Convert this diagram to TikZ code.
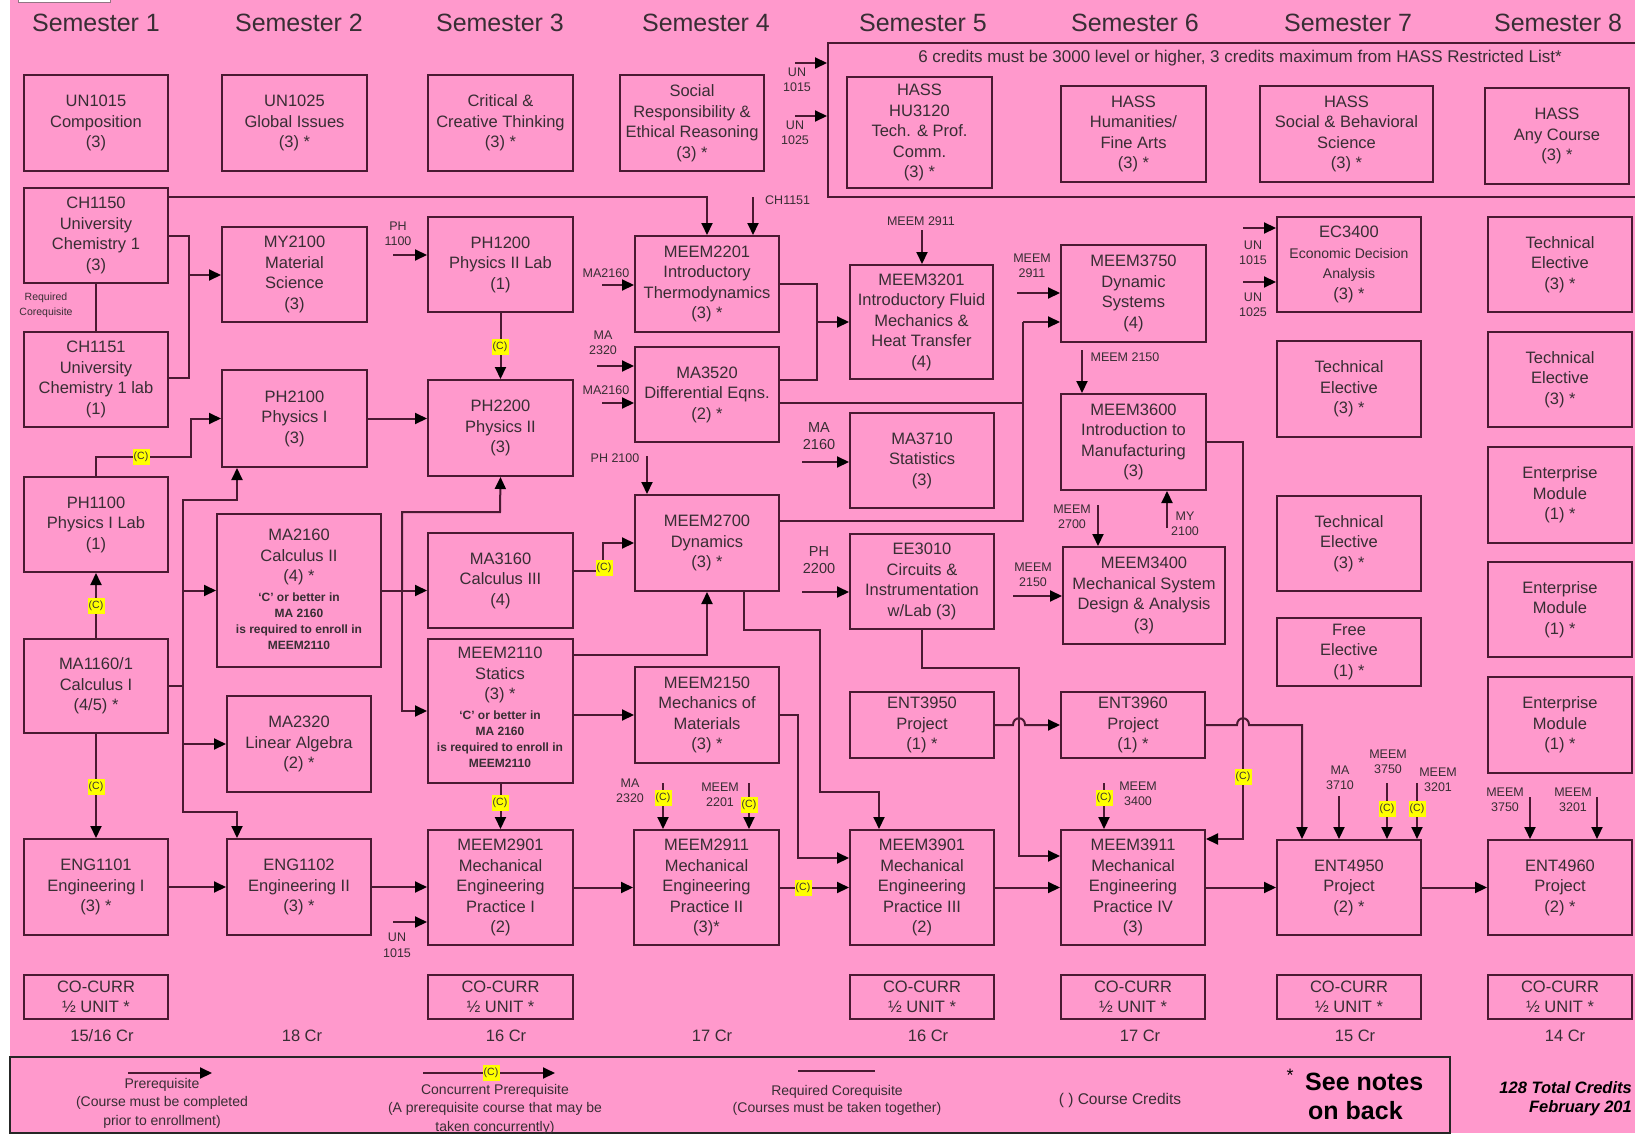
\documentclass[tikz,border=0pt]{standalone}
\usepackage{fontspec}
\setmainfont{Liberation Sans}
\usetikzlibrary{arrows.meta}
\definecolor{bgpink}{RGB}{255,153,204}
\definecolor{lnc}{RGB}{74,26,50}
\definecolor{txc}{RGB}{56,46,52}
\definecolor{hly}{RGB}{255,255,0}
\newcommand\crs[6]{\node[box, minimum width={(#4-#2)*1pt}, minimum height={(#5-#3)*1pt}] (#1) at ({(#2+#4)/2},{(#3+#5)/2}) {#6};}
\newcommand\ccl[3]{\node[cbadge] (#1) at (#2,#3) {(C)};}
\tikzset{
 box/.style={draw=lnc, line width=2pt, text=txc, align=center, inner sep=1pt, font=\fontsize{16.5}{20.5}\selectfont},
 intext/.style={text=txc, align=center, inner sep=0pt, font=\fontsize{16.5}{20.5}\selectfont},
 conn/.style={draw=lnc, line width=2pt},
 arr/.style={conn, -{Triangle[length=12pt,width=11pt,color=black]}},
 lab/.style={text=txc, align=center, inner sep=0pt, font=\fontsize{12.5}{15.5}\selectfont},
 biglab/.style={text=txc, align=center, inner sep=0pt, font=\fontsize{14.5}{16.5}\selectfont},
 cbadge/.style={fill=hly, text=txc, inner sep=0pt, minimum width=17pt, minimum height=16pt, font=\fontsize{10.5}{12}\selectfont},
 sem/.style={text=txc, inner sep=0pt, font=\fontsize{25}{30}\selectfont},
 cred/.style={text=txc, inner sep=0pt, font=\fontsize{16.5}{20}\selectfont},
 note/.style={text=txc, align=center, inner sep=0pt, font=\fontsize{12}{16}\selectfont\bfseries},
 leg/.style={text=txc, align=center, inner sep=0pt, font=\fontsize{14}{18.5}\selectfont},
}
\begin{document}
\begin{tikzpicture}[x=1pt,y=-1pt]
\useasboundingbox (0,0) rectangle (1635,1137);
\clip (0,0) rectangle (1635,1137);
\fill[white] (0,0) rectangle (1635,1137);
\fill[bgpink] (10,0) rectangle (1635,1133);
\draw[fill=white, draw=lnc!60, line width=1pt] (18,-3) rectangle (110,3);

% semester headings
\node[sem] (s1) at (96,23) {Semester 1};
\node[sem] (s2) at (299,23) {Semester 2};
\node[sem] (s3) at (500,23) {Semester 3};
\node[sem] (s4) at (706,23) {Semester 4};
\node[sem] (s5) at (923,23) {Semester 5};
\node[sem] (s6) at (1135,23) {Semester 6};
\node[sem] (s7) at (1348,23) {Semester 7};
\node[sem] (s8) at (1558,23) {Semester 8};

% row 1
\crs{un1015}{24}{75}{168}{171}{UN1015\\Composition\\(3)}
\crs{un1025}{222}{75}{367}{171}{UN1025\\Global Issues\\(3) *}
\crs{crit}{428}{75}{573}{171}{Critical \&\\Creative Thinking\\(3) *}
\crs{socr}{620}{75}{764}{171}{Social\\Responsibility \&\\Ethical Reasoning\\(3) *}
\crs{hass}{828}{43}{1650}{197}{}
\node[text=txc, inner sep=0pt, font=\fontsize{17}{20}\selectfont] (hassnote) at (1240,58) {6 credits must be 3000 level or higher, 3 credits maximum from HASS Restricted List*};
\crs{hu3120}{847}{77}{992}{188}{HASS\\HU3120\\Tech. \& Prof.\\Comm.\\(3) *}
\crs{hum}{1061}{86}{1206}{182}{HASS\\Humanities/\\Fine Arts\\(3) *}
\crs{socb}{1260}{86}{1433}{182}{HASS\\Social \& Behavioral\\Science\\(3) *}
\crs{anyc}{1485}{88}{1629}{184}{HASS\\Any Course\\(3) *}

% courses
\crs{ch1150}{24}{188}{168}{283}{CH1150\\University\\Chemistry 1\\(3)}
\crs{ch1151}{24}{332}{168}{427}{CH1151\\University\\Chemistry 1 lab\\(1)}
\crs{my2100}{222}{227}{367}{322}{MY2100\\Material\\Science\\(3)}
\crs{ph1200}{428}{217}{573}{312}{PH1200\\Physics II Lab\\(1)}
\crs{meem2201}{635}{236}{779}{332}{MEEM2201\\Introductory\\Thermodynamics\\(3) *}
\crs{ma3520}{635}{347}{779}{442}{MA3520\\Differential Eqns.\\(2) *}
\crs{meem3201}{850}{265}{993}{379}{MEEM3201\\Introductory Fluid\\Mechanics \&\\Heat Transfer\\(4)}
\crs{meem3750}{1061}{245}{1206}{342}{MEEM3750\\Dynamic\\Systems\\(4)}
\crs{ec3400}{1277}{217}{1421}{312}{EC3400\\{\fontsize{14}{17}\selectfont Economic Decision}\\{\fontsize{14}{17}\selectfont Analysis}\\(3) *}
\crs{te81}{1488}{217}{1632}{312}{Technical\\Elective\\(3) *}
\crs{te71}{1277}{341}{1421}{437}{Technical\\Elective\\(3) *}
\crs{te82}{1488}{332}{1632}{427}{Technical\\Elective\\(3) *}
\crs{ph2100}{222}{370}{367}{467}{PH2100\\Physics I\\(3)}
\crs{ph2200}{428}{380}{573}{476}{PH2200\\Physics II\\(3)}
\crs{meem3600}{1061}{394}{1206}{490}{MEEM3600\\Introduction to\\Manufacturing\\(3)}
\crs{ma3710}{850}{413}{994}{508}{MA3710\\Statistics\\(3)}
\crs{em1}{1488}{447}{1632}{543}{Enterprise\\Module\\(1) *}
\crs{ph1100}{24}{477}{168}{572}{PH1100\\Physics I Lab\\(1)}
\crs{meem2700}{635}{495}{779}{591}{MEEM2700\\Dynamics\\(3) *}
\crs{te72}{1277}{496}{1421}{591}{Technical\\Elective\\(3) *}
\crs{ma2160}{217}{514}{381}{667}{}
\node[intext] (ma2160t) at (299,557) {MA2160\\Calculus II\\(4) *};
\node[note] (ma2160n) at (299,621) {‘C’ or better in\\MA 2160\\is required to enroll in\\MEEM2110};
\crs{ma3160}{428}{533}{573}{628}{MA3160\\Calculus III\\(4)}
\crs{ee3010}{850}{534}{994}{629}{EE3010\\Circuits \&\\Instrumentation\\w/Lab (3)}
\crs{meem3400}{1063}{547}{1225}{644}{MEEM3400\\Mechanical System\\Design \& Analysis\\(3)}
\crs{em2}{1488}{562}{1632}{657}{Enterprise\\Module\\(1) *}
\crs{fe}{1277}{618}{1421}{686}{Free\\Elective\\(1) *}
\crs{ma1160}{24}{639}{168}{733}{MA1160/1\\Calculus I\\(4/5) *}
\crs{meem2110}{428}{639}{573}{783}{}
\node[intext] (meem2110t) at (500,675) {MEEM2110\\Statics\\(3) *};
\node[note] (meem2110n) at (500,739) {‘C’ or better in\\MA 2160\\is required to enroll in\\MEEM2110};
\crs{meem2150}{635}{667}{779}{763}{MEEM2150\\Mechanics of\\Materials\\(3) *}
\crs{ent3950}{850}{692}{994}{758}{ENT3950\\Project\\(1) *}
\crs{ent3960}{1061}{692}{1205}{758}{ENT3960\\Project\\(1) *}
\crs{em3}{1488}{677}{1632}{773}{Enterprise\\Module\\(1) *}
\crs{ma2320}{227}{696}{371}{792}{MA2320\\Linear Algebra\\(2) *}
\crs{eng1101}{24}{839}{168}{935}{ENG1101\\Engineering I\\(3) *}
\crs{eng1102}{227}{839}{371}{935}{ENG1102\\Engineering II\\(3) *}
\crs{meem2901}{428}{830}{573}{945}{MEEM2901\\Mechanical\\Engineering\\Practice I\\(2)}
\crs{meem2911}{634}{830}{779}{945}{MEEM2911\\Mechanical\\Engineering\\Practice II\\(3)*}
\crs{meem3901}{850}{830}{994}{945}{MEEM3901\\Mechanical\\Engineering\\Practice III\\(2)}
\crs{meem3911}{1061}{830}{1205}{945}{MEEM3911\\Mechanical\\Engineering\\Practice IV\\(3)}
\crs{ent4950}{1277}{840}{1421}{935}{ENT4950\\Project\\(2) *}
\crs{ent4960}{1488}{840}{1632}{935}{ENT4960\\Project\\(2) *}

% co-curr
\crs{cc1}{24}{975}{168}{1019}{CO-CURR\\½ UNIT *}
\crs{cc3}{428}{975}{573}{1019}{CO-CURR\\½ UNIT *}
\crs{cc5}{850}{975}{994}{1019}{CO-CURR\\½ UNIT *}
\crs{cc6}{1061}{975}{1205}{1019}{CO-CURR\\½ UNIT *}
\crs{cc7}{1277}{975}{1421}{1019}{CO-CURR\\½ UNIT *}
\crs{cc8}{1488}{975}{1632}{1019}{CO-CURR\\½ UNIT *}
\node[cred] (cr1) at (102,1036) {15/16 Cr};
\node[cred] (cr2) at (302,1036) {18 Cr};
\node[cred] (cr3) at (506,1036) {16 Cr};
\node[cred] (cr4) at (712,1036) {17 Cr};
\node[cred] (cr5) at (928,1036) {16 Cr};
\node[cred] (cr6) at (1140,1036) {17 Cr};
\node[cred] (cr7) at (1355,1036) {15 Cr};
\node[cred] (cr8) at (1565,1036) {14 Cr};

% ---------- connectors ----------
\draw[arr] (ch1150.east |- 0,197) -| (meem2201.north);
\coordinate (fch1151) at (753,197);
\draw[arr] (fch1151) -- (fch1151 |- meem2201.north);
\node[lab, anchor=west] (lch1151) at (765,200) {CH1151};

\coordinate (jmy) at (189,275);
\draw[conn] (ch1150.east |- 0,236) -| (jmy);
\draw[conn] (ch1151.east |- 0,378) -| (jmy);
\draw[arr] (jmy) -- (my2100.west |- jmy);
\draw[conn] (ch1150.south) -- (ch1151.north);
\node[lab, font=\fontsize{10.5}{15}\selectfont] (lcoreq) at (46,305) {Required\\Corequisite};

\coordinate (jph) at (191,457);
\draw[arr] (ph1100.north) |- (jph) |- (ph2100.west);
\ccl{c1}{141}{457}
\draw[arr] (ma1160.north) -- (ph1100.south);
\ccl{c2}{96}{606}
\draw[arr] (ma1160.south) -- (eng1101.north);
\ccl{c3}{96}{787}

\coordinate (bus) at (183,686);
\draw[conn] (ma1160.east) -- (bus);
\draw[arr] (bus) |- (237,500) -- (ph2100.south -| 237,0);
\draw[arr] (bus |- ma2160.west) -- (ma2160.west);
\draw[arr] (bus |- ma2320.west) -- (ma2320.west);
\draw[arr] (bus) |- (237,812) -- (eng1102.north -| 237,0);

\draw[arr] (eng1101.east) -- (eng1102.west);
\draw[arr] (eng1102.east) -- (meem2901.west |- eng1102.east);
\coordinate (fun1015b) at (393,922);
\draw[arr] (fun1015b) -- (meem2901.west |- fun1015b);
\node[lab] (lun1015b) at (397,945) {UN\\1015};
\draw[arr] (meem2110.south) -- (meem2901.north);
\ccl{c4}{500}{803}
\draw[arr] (meem2901.east) -- (meem2911.west |- meem2901.east);

\coordinate (fma2320b) at (663,783);
\draw[arr] (fma2320b) -- (fma2320b |- meem2911.north);
\ccl{c5}{663}{798}
\node[lab] (lma2320b) at (630,791) {MA\\2320};
\coordinate (fmeem2201) at (749,783);
\draw[arr] (fmeem2201) -- (fmeem2201 |- meem2911.north);
\ccl{c6}{749}{805}
\node[lab] (lmeem2201) at (720,795) {MEEM\\2201};

\draw[arr] (meem2911.east) -- (meem3901.west |- meem2911.east);
\ccl{c7}{803}{888}
\draw[arr] (meem2150.east) -| (798,858) -- (meem3901.west |- 0,858);
\draw[arr] (meem2700.south -| 744,0) |- (820,630) |- (879,792) -- (meem3901.north -| 879,0);
\draw[arr] (meem2110.east |- 0,655) -| (meem2700.south);
\draw[arr] (meem2110.east |- meem2150.west) -- (meem2150.west);
\draw[arr] (ma3160.east |- 0,571) -| (603,543) -- (meem2700.west);
\ccl{c8}{604}{568}

\coordinate (jma) at (402,590);
\draw[arr] (ma2160.east) -- (ma3160.west |- ma2160.east);
\draw[arr] (jma) |- (500,512) -- (ph2200.south);
\draw[arr] (jma) |- (meem2110.west);
\draw[arr] (ph2100.east) -- (ph2200.west |- ph2100.east);
\draw[arr] (ph1200.south) -- (ph2200.north);
\ccl{c9}{500}{347}
\coordinate (fph1100) at (393,255);
\draw[arr] (fph1100) -- (ph1200.west |- fph1100);
\node[lab] (lph1100) at (398,234) {PH\\1100};

\coordinate (fma2160a) at (602,285);
\draw[arr] (fma2160a) -- (meem2201.west |- fma2160a);
\node[lab] (lma2160a) at (606,273) {MA2160};
\coordinate (fma2320a) at (597,366);
\draw[arr] (fma2320a) -- (ma3520.west |- fma2320a);
\node[lab] (lma2320a) at (603,343) {MA\\2320};
\coordinate (fma2160b) at (602,403);
\draw[arr] (fma2160b) -- (ma3520.west |- fma2160b);
\node[lab] (lma2160b) at (606,390) {MA2160};

\coordinate (j3201) at (817,322);
\draw[conn] (meem2201.east) -| (j3201);
\draw[conn] (ma3520.east |- 0,380) -| (j3201);
\draw[arr] (j3201) -- (meem3201.west |- j3201);
\coordinate (j3750) at (1023,322);
\draw[conn] (ma3520.east |- 0,403) -| (j3750);
\draw[conn] (meem2700.east |- 0,521) -| (j3750);
\draw[arr] (j3750) -- (meem3750.west |- j3750);

\coordinate (fph2100) at (647,456);
\draw[arr] (fph2100) -- (fph2100 |- meem2700.north);
\node[lab] (lph2100) at (615,458) {PH 2100};
\coordinate (fm2911a) at (922,230);
\draw[arr] (fm2911a) -- (fm2911a |- meem3201.north);
\node[lab] (lm2911a) at (921,221) {MEEM 2911};
\coordinate (fm2911b) at (1017,293);
\draw[arr] (fm2911b) -- (meem3750.west |- fm2911b);
\node[lab] (lm2911b) at (1032,266) {MEEM\\2911};
\coordinate (fm2150a) at (1082,350);
\draw[arr] (fm2150a) -- (fm2150a |- meem3600.north);
\node[lab] (lm2150a) at (1125,357) {MEEM 2150};
\coordinate (fma2160c) at (802,462);
\draw[arr] (fma2160c) -- (ma3710.west |- fma2160c);
\node[biglab] (lma2160c) at (819,436) {MA\\2160};
\coordinate (fph2200) at (802,592);
\draw[arr] (fph2200) -- (ee3010.west |- fph2200);
\node[biglab] (lph2200) at (819,560) {PH\\2200};
\coordinate (fm2700) at (1098,505);
\draw[arr] (fm2700) -- (fm2700 |- meem3400.north);
\node[lab] (lm2700) at (1072,517) {MEEM\\2700};
\coordinate (fmy2100) at (1167,528);
\draw[arr] (fmy2100) -- (fmy2100 |- meem3600.south);
\node[lab] (lmy2100) at (1185,524) {MY\\2100};
\coordinate (fm2150b) at (1013,596);
\draw[arr] (fm2150b) -- (meem3400.west |- fm2150b);
\node[lab] (lm2150b) at (1033,575) {MEEM\\2150};

\draw[arr] (ee3010.south) |- (1019,668) |- (meem3911.west |- 0,856);
\draw[arr] (ent3950.east) -- (1013,725) .. controls (1013,716) and (1025,716) .. (1025,725) -- (ent3960.west);
\draw[arr] (ent3960.east) -- (1237,725) .. controls (1237,716) and (1249,716) .. (1249,725) -| (ent4950.north -| 1302,0);
\draw[arr] (meem3600.east) -| (1243,839) -- (meem3911.east |- 0,839);
\ccl{c10}{1243}{777}
\draw[arr] (meem3901.east) -- (meem3911.west);
\coordinate (fm3400) at (1104,783);
\draw[arr] (fm3400) -- (fm3400 |- meem3911.north);
\ccl{c11}{1104}{798}
\node[lab] (lm3400) at (1138,794) {MEEM\\3400};
\draw[arr] (meem3911.east) -- (ent4950.west);
\coordinate (fma3710) at (1339,796);
\draw[arr] (fma3710) -- (fma3710 |- ent4950.north);
\node[lab] (lma3710) at (1340,778) {MA\\3710};
\coordinate (fm3750a) at (1387,783);
\draw[arr] (fm3750a) -- (fm3750a |- ent4950.north);
\ccl{c12}{1387}{809}
\node[lab] (lm3750a) at (1388,762) {MEEM\\3750};
\coordinate (fm3201a) at (1417,783);
\draw[arr] (fm3201a) -- (fm3201a |- ent4950.north);
\ccl{c13}{1417}{809}
\node[lab] (lm3201a) at (1438,780) {MEEM\\3201};
\draw[arr] (ent4950.east) -- (ent4960.west);
\coordinate (fm3750b) at (1530,797);
\draw[arr] (fm3750b) -- (fm3750b |- ent4960.north);
\node[lab] (lm3750b) at (1505,800) {MEEM\\3750};
\coordinate (fm3201b) at (1597,797);
\draw[arr] (fm3201b) -- (fm3201b |- ent4960.north);
\node[lab] (lm3201b) at (1573,800) {MEEM\\3201};

\coordinate (fun1015c) at (1243,228);
\draw[arr] (fun1015c) -- (ec3400.west |- fun1015c);
\node[lab] (lun1015c) at (1253,253) {UN\\1015};
\coordinate (fun1025c) at (1243,282);
\draw[arr] (fun1025c) -- (ec3400.west |- fun1025c);
\node[lab] (lun1025c) at (1253,305) {UN\\1025};
\coordinate (fun1015a) at (795,63);
\draw[arr] (fun1015a) -- (hass.west |- fun1015a);
\node[lab] (lun1015a) at (797,80) {UN\\1015};
\coordinate (fun1025a) at (795,116);
\draw[arr] (fun1025a) -- (hass.west |- fun1025a);
\node[lab] (lun1025a) at (795,133) {UN\\1025};

% ---------- legend ----------
\draw[line width=2.5pt, draw=black!85] (10,1057) rectangle (1450,1133);
\coordinate (lga1) at (128,1073);
\coordinate (lga2) at (212,1073);
\draw[arr] (lga1) -- (lga2);
\node[leg] (lgt1) at (162,1103) {Prerequisite\\(Course must be completed\\prior to enrollment)};
\coordinate (lgb1) at (423,1073);
\coordinate (lgb2) at (555,1073);
\draw[arr] (lgb1) -- (lgb2);
\ccl{lgc}{491}{1073}
\node[leg] (lgt2) at (495,1109) {Concurrent Prerequisite\\(A prerequisite course that may be\\taken concurrently)};
\coordinate (lgr1) at (798,1071);
\coordinate (lgr2) at (875,1071);
\draw[conn] (lgr1) -- (lgr2);
\node[leg, font=\fontsize{14}{17}\selectfont] (lgt3) at (837,1100) {Required Corequisite\\(Courses must be taken together)};
\node[leg, font=\fontsize{15.5}{18}\selectfont] (lgt4) at (1120,1100) {( ) Course Credits};
\node[text=black, inner sep=0pt, font=\fontsize{18}{20}\selectfont] (lgstar) at (1290,1075) {*};
\node[text=black, inner sep=0pt, align=left, anchor=west, font=\fontsize{25}{29}\selectfont\bfseries] (lgsee) at (1305,1096) {See notes\\\hspace*{3pt}on back};
\node[text=black, inner sep=0pt, anchor=east, font=\fontsize{16.5}{20}\selectfont\bfseries\itshape] (lgtot) at (1632,1088) {128 Total Credits};
\node[text=black, inner sep=0pt, anchor=east, font=\fontsize{16.5}{20}\selectfont\bfseries\itshape] (lgdate) at (1632,1108) {February 201};
\end{tikzpicture}
\end{document}
